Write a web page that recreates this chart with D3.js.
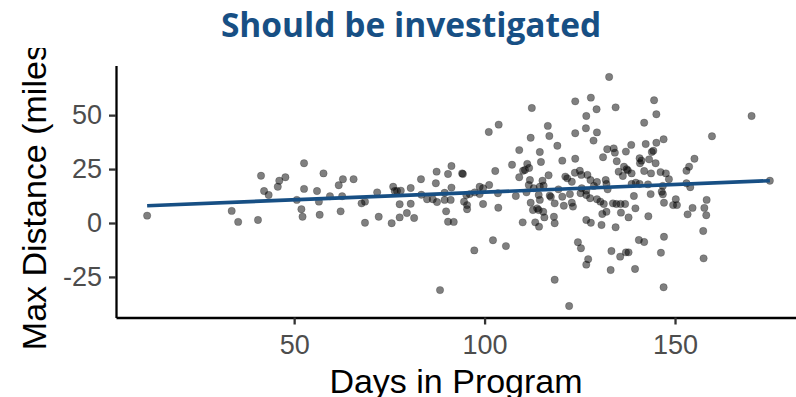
<!DOCTYPE html>
<html>
<head>
<meta charset="utf-8">
<script src="https://cdn.jsdelivr.net/npm/d3@7"></script>
<style>
    body { margin: 0; background: #ffffff; }
    svg { display: block; }
</style>
</head>
<body>
<svg id="chart" width="796" height="397"></svg>
<script>
// Days in program (x) and max distance in miles (y)
var daysInProgram = [
    11.4, 33.6, 35.3, 40.5, 41.3, 42.1, 43.3, 45.7, 46.1, 47.7, 50.7,
    52.6, 52.6, 51.9, 52.2, 57.7, 56.0, 56.5, 56.7, 61.7, 62.8, 65.6, 59.4, 62.6, 62.2,
    67.7, 68.6, 68.6, 71.8, 72.2, 75.6, 76.0, 76.4, 77.0, 78.0, 77.7, 77.7, 79.6, 80.6,
    80.6, 81.5, 83.3, 83.4, 84.9, 86.4, 87.2, 87.4, 87.5, 89.5, 89.5, 90.4, 91.3, 91.3,
    91.1, 89.9, 90.4, 91.9, 88.3,
    94.1, 94.3, 97.4, 96.1, 95.2, 94.6, 95.4, 95.4, 97.3, 98.7, 112.4, 103.7, 101.1,
    116.6, 112.1, 117.0, 119.1, 109.1, 114.5, 114.8, 107.2, 102.8, 111.2, 111.7, 110.6,
    110.1, 109.1, 116.8, 111.9, 115.2, 111.6, 112.9, 114.5, 115.5, 101.2, 99.6, 98.7,
    103.5, 108.2, 111.0, 114.2, 114.5, 119.4, 117.1, 117.4, 118.4, 99.6, 103.6, 112.1,
    112.7, 113.8, 114.2, 115.4, 115.7, 118.2, 118.4, 110.0, 113.3, 114.3, 102.2, 105.6,
    118.4,
    132.7, 123.8, 127.9, 144.5, 126.7, 129.4, 134.4, 145.1, 141.9, 123.8, 126.6, 129.5,
    128.6, 147.0, 145.1, 142.3, 138.5, 132.2, 133.9, 134.2, 137.1, 143.9, 144.3, 131.1,
    134.7, 140.7, 141.2, 140.8, 143.2, 144.9, 120.4, 123.8, 137.3, 137.6, 136.6, 135.2,
    138.6, 136.3, 141.9, 143.7, 146.2, 147.6, 121.2, 121.7, 123.7, 125.0, 125.4, 127.0,
    122.9, 127.8, 129.5, 128.7, 131.8, 132.0, 132.3, 125.5, 126.7, 125.2, 122.4, 120.4,
    120.8, 122.9, 123.2, 126.7, 127.7, 129.5, 130.4, 131.3, 133.7, 134.6, 135.7, 136.9,
    139.2, 138.6, 139.7, 140.7, 142.9, 139.6, 143.6, 146.5, 146.8, 147.1, 132.0, 130.9,
    135.8, 137.8, 143.0, 126.7, 127.9, 130.7, 134.4, 147.1, 140.5, 141.9, 124.5, 125.3,
    133.3, 137.1, 137.8, 135.6, 146.3, 127.2, 126.7, 133.1, 139.5, 147.0, 122.2,
    170.1, 159.7, 155.1, 153.7, 153.0, 148.4, 153.0, 154.0, 174.9, 150.2, 149.5, 150.5,
    158.3, 154.6, 157.7, 153.3, 158.2, 157.4, 157.5, 146.8
];

var maxDistance = [
    3.4, 5.6, 0.5, 1.4, 21.9, 14.8, 13.0, 16.8, 19.6, 21.2, 10.7,
    27.7, 15.8, 6.4, 2.9, 23.0, 14.8, 9.9, 3.8, 17.5, 20.3, 20.3, 12.4, 12.4, 5.4,
    9.1, 9.9, 0.1, 14.2, 2.9, -0.1, 16.8, 14.8, 14.8, 15.0, 8.7, 2.6, 4.6, 16.2,
    8.9, 2.3, 20.3, 13.1, 11.0, 11.0, 18.4, 23.8, 9.7, 10.7, 14.0, 22.7, 26.4, 16.4,
    10.7, 5.4, 0.6, 0.5, -31.1,
    23.0, 22.7, 14.2, 13.4, 13.0, 9.9, 8.3, 6.4, -12.7, 13.4, 53.3, 45.6, 42.2,
    45.0, 39.5, 40.3, 35.8, 33.8, 32.9, 28.3, 27.0, 24.1, 27.4, 25.5, 24.6,
    24.2, 21.2, 22.1, 19.9, 19.6, 17.6, 16.1, 16.8, 17.3, 17.6, 16.1, 16.8,
    13.8, 12.5, 14.2, 13.0, 10.7, 15.6, 12.7, 12.1, 9.1, 8.8, 7.1, 9.4,
    6.0, 6.8, 6.0, 5.2, 2.6, 2.9, -0.1, 0.3, 0.3, -1.7, -8.0, -10.7,
    -26.3,
    67.7, 56.4, 58.1, 56.9, 49.6, 52.7, 53.6, 50.4, 46.5, 41.6, 43.9, 42.0,
    38.2, 38.8, 37.2, 36.6, 36.2, 34.2, 34.6, 32.6, 33.1, 32.9, 33.5, 30.5,
    28.6, 30.0, 28.9, 27.7, 29.5, 27.7, 28.9, 29.8, 24.9, 24.4, 26.1, 23.8,
    23.0, 21.8, 24.1, 23.0, 23.6, 23.0, 21.5, 20.7, 23.3, 24.2, 22.3, 22.3,
    19.1, 19.9, 19.0, 17.2, 19.9, 18.1, 15.6, 16.1, 15.0, 13.8, 13.4, 12.2,
    8.0, 9.4, 7.6, 13.0, 11.5, 11.0, 9.9, 8.8, 9.1, 8.8, 8.8, 8.8,
    12.5, 18.1, 18.7, 18.1, 17.9, 6.8, 13.4, 14.5, 13.3, 9.4, 5.2, 4.2,
    4.8, 2.6, 3.1, 1.4, 0.1, -0.9, -2.0, -6.4, -7.9, -8.8, -8.9, -11.7,
    -13.0, -13.6, -13.6, -15.6, -13.8, -16.8, -19.3, -21.8, -21.3, -29.8, -38.5,
    49.6, 40.2, 29.8, 26.1, 24.2, 20.3, 18.4, 16.6, 19.6, 11.0, 8.3, 8.3,
    10.7, 7.0, 7.0, 4.0, 3.6, -3.7, -16.4, 17.2
];

var xTicks = [50, 100, 150];
var yTicks = [-25, 0, 25, 50];

// linear fit
var fitIntercept = 7.2;
var fitSlope = 0.071;

var titleText = "Should be investigated";
var xLabel = "Days in Program";
var yLabel = "Max Distance (miles)";

var blue = "#174f84";

var svg = d3.select("#chart");
// panel edges (note: "top" is a reserved window name, so use plot_ prefix)
var plot_Left = 116, plot_Right = 801, plot_Top = 65.5, plot_Bottom = 317.5;

// ggplot style 5% expansion around the data
var xExt = d3.extent(daysInProgram);
var yExt = d3.extent(maxDistance);
var xPad = (xExt[1] - xExt[0]) * 0.05;
var yPad = (yExt[1] - yExt[0]) * 0.05;

var x = d3.scaleLinear()
    .domain([xExt[0] - xPad, xExt[1] + xPad])
    .range([plot_Left, plot_Right]);

var y = d3.scaleLinear()
    .domain([yExt[0] - yPad, yExt[1] + yPad])
    .range([plot_Bottom, plot_Top]);

// points
var points = daysInProgram.map(function(d, i)
{
    return { days: d, dist: maxDistance[i] };
});

svg.append("g")
    .selectAll("circle")
    .data(points)
    .enter().append("circle")
    .attr("cx", function(d) { return x(d.days); })
    .attr("cy", function(d) { return y(d.dist); })
    .attr("r", 3.7)
    .attr("fill", "#000")
    .attr("fill-opacity", 0.5)
    .attr("stroke", "#000")
    .attr("stroke-opacity", 0.25)
    .attr("stroke-width", 0.8);

// fitted line over the data range
var fitLine = d3.line()
    .x(function(d) { return x(d); })
    .y(function(d) { return y(fitIntercept + fitSlope * d); });

svg.append("path")
    .datum(xExt)
    .attr("d", fitLine)
    .attr("fill", "none")
    .attr("stroke", blue)
    .attr("stroke-width", 3.6);

// axes, plain hyphen for negatives like the original
var plainFormat = function(d) { return String(d); };

var xAxis = svg.append("g")
    .attr("transform", "translate(0," + plot_Bottom + ")")
    .call(d3.axisBottom(x).tickValues(xTicks).tickFormat(plainFormat)
        .tickSize(7).tickSizeOuter(0).tickPadding(10));

var yAxis = svg.append("g")
    .attr("transform", "translate(" + plot_Left + ",0)")
    .call(d3.axisLeft(y).tickValues(yTicks).tickFormat(plainFormat)
        .tickSize(7).tickSizeOuter(0).tickPadding(7));

[xAxis, yAxis].forEach(function(ax)
{
    ax.select(".domain")
        .style("stroke", "#000")
        .style("stroke-width", "2.3px");
    ax.selectAll(".tick line")
        .style("stroke", "#333333")
        .style("stroke-width", "2.3px");
    ax.selectAll(".tick text")
        .attr("fill", "#4d4d4d")
        .style("font-family", "'Liberation Sans', Arial, sans-serif")
        .style("font-size", "27px");
});

// axis titles
svg.append("text")
    .attr("x", 456)
    .attr("y", 393)
    .attr("text-anchor", "middle")
    .style("font-family", "'Liberation Sans', Arial, sans-serif")
    .style("font-size", "34px")
    .attr("fill", "#000")
    .text(xLabel);

svg.append("clipPath")
    .attr("id", "yLabelClip")
    .append("rect")
    .attr("x", 0)
    .attr("y", 48)
    .attr("width", 100)
    .attr("height", 349);

svg.append("g")
    .attr("clip-path", "url(#yLabelClip)")
    .append("text")
    .attr("transform", "translate(46," + ((plot_Top + plot_Bottom) / 2) + ") rotate(-90)")
    .attr("text-anchor", "middle")
    .style("font-family", "'Liberation Sans', Arial, sans-serif")
    .style("font-size", "34px")
    .attr("fill", "#000")
    .text(yLabel);

// title
svg.append("text")
    .attr("x", 411)
    .attr("y", 37)
    .attr("text-anchor", "middle")
    .style("font-family", "'Open Sans', sans-serif")
    .style("font-weight", "bold")
    .style("font-size", "33.5px")
    .attr("fill", blue)
    .text(titleText);
</script>
</body>
</html>
